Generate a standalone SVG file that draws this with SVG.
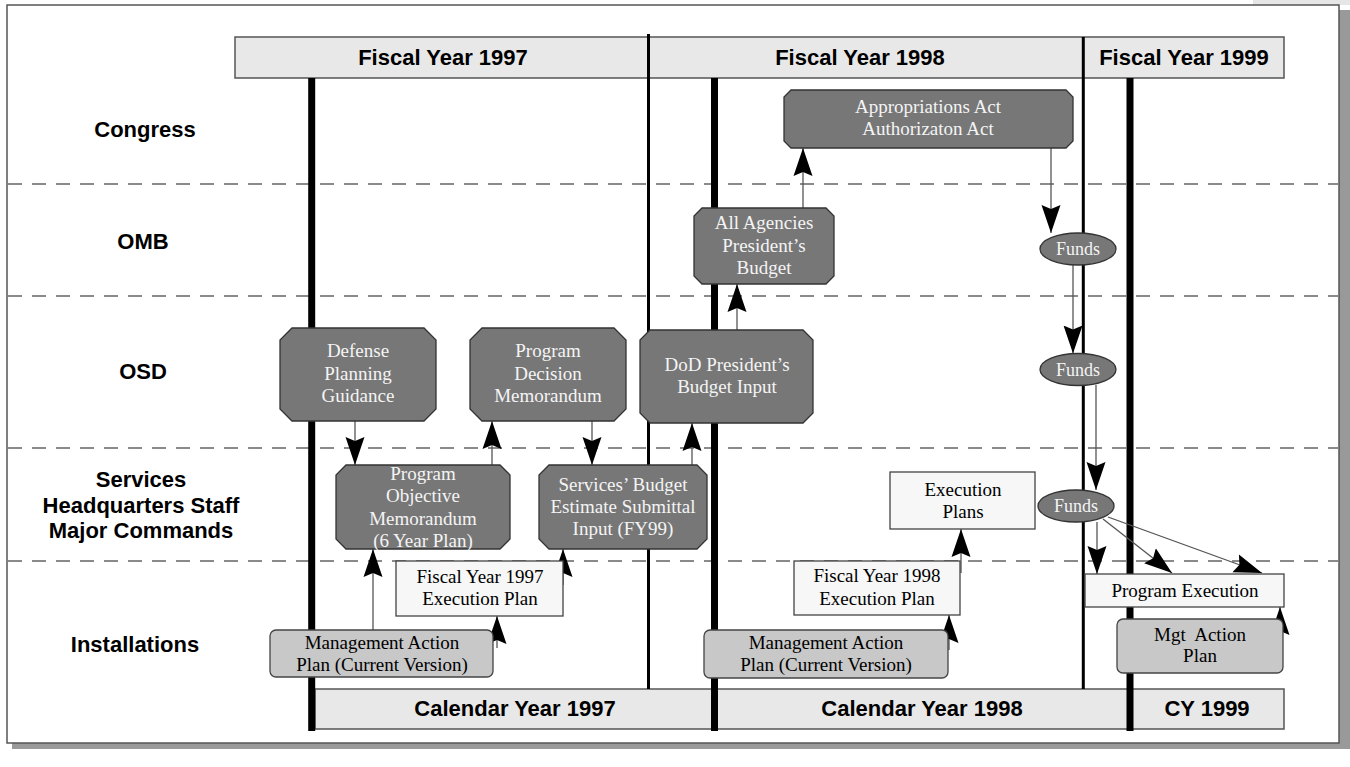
<svg xmlns="http://www.w3.org/2000/svg" width="1350" height="767" viewBox="0 0 1350 767">
  <defs>
    <marker id="arrow" markerUnits="userSpaceOnUse" markerWidth="28" markerHeight="20" viewBox="0 0 28 20" refX="28" refY="10" orient="auto">
      <path d="M0,0.5 L28,10 L0,19.5 L4,10 Z" fill="#000"/>
    </marker>
    <style>
      .lane { font-family: "Liberation Sans", Arial, sans-serif; font-weight: bold; font-size: 22px; fill: #000; text-anchor: middle; }
      .bar { fill: #e8e8e8; stroke: #555; stroke-width: 1.5; }
      .bartxt { font-family: "Liberation Sans", Arial, sans-serif; font-weight: bold; font-size: 22px; fill: #000; text-anchor: middle; }
      .dash { stroke: #8a8a8a; stroke-width: 2; stroke-dasharray: 14 10; fill: none; }
      .thick { stroke: #000; stroke-width: 7; fill: none; }
      .thin { stroke: #000; stroke-width: 3; fill: none; }
      .dark { fill: #777; stroke: #333; stroke-width: 1.3; }
      .light { fill: #f7f7f7; stroke: #444; stroke-width: 1.3; }
      .mid { fill: #c8c8c8; stroke: #444; stroke-width: 1.3; }
      .wt { font-family: "Liberation Serif", "Times New Roman", serif; font-size: 19px; fill: #f4f4f4; text-anchor: middle; }
      .bt { font-family: "Liberation Serif", "Times New Roman", serif; font-size: 19px; fill: #000; text-anchor: middle; }
      .conn line { stroke: #555; stroke-width: 1.3; marker-end: url(#arrow); }
    </style>
  </defs>

  <!-- page frame with drop shadow -->
  <rect x="1253" y="0" width="97" height="5" fill="#e6e6e6"/>
  <rect x="12" y="10" width="1338" height="739" fill="#999"/>
  <rect x="7" y="5" width="1332" height="738" fill="#fff" stroke="#555" stroke-width="1.5"/>

  <!-- organisation lanes -->
  <g id="lanes">
    <line class="dash" x1="8" y1="184" x2="1338" y2="184"/>
    <line class="dash" x1="8" y1="296" x2="1338" y2="296"/>
    <line class="dash" x1="8" y1="448" x2="1338" y2="448"/>
    <line class="dash" x1="8" y1="561" x2="1338" y2="561"/>
    <text class="lane" x="145" y="137">Congress</text>
    <text class="lane" x="143" y="249">OMB</text>
    <text class="lane" x="143" y="379">OSD</text>
    <text class="lane" x="141" y="487">Services</text>
    <text class="lane" x="141" y="513">Headquarters Staff</text>
    <text class="lane" x="141" y="538">Major Commands</text>
    <text class="lane" x="135" y="652">Installations</text>
  </g>

  <!-- fiscal year header -->
  <g id="fiscal-years">
    <rect class="bar" x="235" y="37" width="1049" height="41"/>
    <text class="bartxt" x="443" y="65">Fiscal Year 1997</text>
    <text class="bartxt" x="860" y="65">Fiscal Year 1998</text>
    <text class="bartxt" x="1184" y="65">Fiscal Year 1999</text>
  </g>

  <!-- calendar year footer -->
  <g id="calendar-years">
    <rect class="bar" x="315" y="689" width="969" height="40"/>
    <text class="bartxt" x="515" y="716">Calendar Year 1997</text>
    <text class="bartxt" x="922" y="716">Calendar Year 1998</text>
    <text class="bartxt" x="1207" y="716">CY 1999</text>
  </g>

  <!-- year boundaries -->
  <g id="year-lines">
    <line class="thick" x1="311.7" y1="78" x2="311.7" y2="731"/>
    <line class="thick" x1="714.5" y1="78" x2="714.5" y2="731"/>
    <line class="thick" x1="1130" y1="78" x2="1130" y2="731"/>
    <line class="thin" x1="648.5" y1="34" x2="648.5" y2="689"/>
    <line class="thin" x1="1083.3" y1="37" x2="1083.3" y2="689"/>
  </g>

  <!-- connectors -->
  <g id="connectors" class="conn">
    <line x1="355" y1="421" x2="355" y2="465"/>
    <line x1="492" y1="465" x2="492" y2="421"/>
    <line x1="592" y1="421" x2="592" y2="465"/>
    <line x1="692" y1="465" x2="692" y2="423"/>
    <line x1="737" y1="330" x2="737" y2="284"/>
    <line x1="803" y1="208" x2="803" y2="148"/>
    <line x1="1051" y1="148" x2="1051" y2="233"/>
    <line x1="1073" y1="265" x2="1073" y2="353.5"/>
    <line x1="1096" y1="385" x2="1096" y2="490"/>
    <line x1="1097" y1="522" x2="1097" y2="574"/>
    <line x1="1103" y1="519" x2="1172" y2="573"/>
    <line x1="1108" y1="517" x2="1262" y2="573"/>
    <line x1="373" y1="630" x2="373" y2="549"/>
    <line x1="497" y1="648" x2="497" y2="616"/>
    <line x1="563" y1="585" x2="563" y2="549"/>
    <line x1="949" y1="650" x2="949" y2="615"/>
    <line x1="961" y1="573" x2="961" y2="529"/>
    <line x1="1280" y1="638" x2="1280" y2="607"/>
  </g>

  <!-- Congress -->
  <g id="appropriations">
    <polygon class="dark" points="791,90 1066,90 1073,97 1073,141 1066,148 791,148 784,141 784,97"/>
    <text class="wt" x="928" y="113">Appropriations Act</text>
    <text class="wt" x="928" y="135">Authorizaton Act</text>
  </g>

  <!-- OMB -->
  <g id="all-agencies-budget">
    <polygon class="dark" points="702,208 826,208 834,216 834,276 826,284 702,284 694,276 694,216"/>
    <text class="wt" x="764" y="229">All Agencies</text>
    <text class="wt" x="764" y="252">President’s</text>
    <text class="wt" x="764" y="274">Budget</text>
  </g>
  <g id="funds-omb">
    <ellipse class="dark" cx="1078" cy="249" rx="38" ry="16"/>
    <text class="wt" x="1078" y="255" style="font-size:18px">Funds</text>
  </g>

  <!-- OSD -->
  <g id="defense-planning-guidance">
    <polygon class="dark" points="292,328 424,328 436,340 436,409 424,421 292,421 280,409 280,340"/>
    <text class="wt" x="358" y="357">Defense</text>
    <text class="wt" x="358" y="380">Planning</text>
    <text class="wt" x="358" y="402">Guidance</text>
  </g>
  <g id="program-decision-memorandum">
    <polygon class="dark" points="482,328 614,328 626,340 626,409 614,421 482,421 470,409 470,340"/>
    <text class="wt" x="548" y="357">Program</text>
    <text class="wt" x="548" y="380">Decision</text>
    <text class="wt" x="548" y="402">Memorandum</text>
  </g>
  <g id="dod-budget-input">
    <polygon class="dark" points="650,330 803,330 813,340 813,413 803,423 650,423 640,413 640,340"/>
    <text class="wt" x="727" y="371">DoD President’s</text>
    <text class="wt" x="727" y="393">Budget Input</text>
  </g>
  <g id="funds-osd">
    <ellipse class="dark" cx="1078" cy="369.5" rx="38" ry="16"/>
    <text class="wt" x="1078" y="375.5" style="font-size:18px">Funds</text>
  </g>

  <!-- Services -->
  <g id="program-objective-memorandum">
    <polygon class="dark" points="346,465 500,465 510,475 510,539 500,549 346,549 336,539 336,475"/>
    <text class="wt" x="423" y="480">Program</text>
    <text class="wt" x="423" y="502">Objective</text>
    <text class="wt" x="423" y="525">Memorandum</text>
    <text class="wt" x="423" y="547">(6 Year Plan)</text>
  </g>
  <g id="budget-estimate-submittal">
    <polygon class="dark" points="549,465 697,465 707,475 707,539 697,549 549,549 539,539 539,475"/>
    <text class="wt" x="623" y="491">Services’ Budget</text>
    <text class="wt" x="623" y="513">Estimate Submittal</text>
    <text class="wt" x="623" y="535">Input (FY99)</text>
  </g>
  <g id="execution-plans">
    <rect class="light" x="890" y="472" width="145" height="57"/>
    <text class="bt" x="963" y="496">Execution</text>
    <text class="bt" x="963" y="518">Plans</text>
  </g>
  <g id="funds-services">
    <ellipse class="dark" cx="1076" cy="506" rx="38" ry="16"/>
    <text class="wt" x="1076" y="512" style="font-size:18px">Funds</text>
  </g>

  <!-- Installations -->
  <g id="fy97-execution-plan">
    <rect class="light" x="396" y="561" width="167" height="55"/>
    <text class="bt" x="480" y="583">Fiscal Year 1997</text>
    <text class="bt" x="480" y="605">Execution Plan</text>
  </g>
  <g id="fy98-execution-plan">
    <rect class="light" x="794" y="561" width="166" height="54"/>
    <text class="bt" x="877" y="582">Fiscal Year 1998</text>
    <text class="bt" x="877" y="605">Execution Plan</text>
  </g>
  <g id="map-1997">
    <rect class="mid" x="270" y="630" width="223" height="47" rx="6"/>
    <text class="bt" x="382" y="649">Management Action</text>
    <text class="bt" x="382" y="671">Plan (Current Version)</text>
  </g>
  <g id="map-1998">
    <rect class="mid" x="704" y="630" width="244" height="48" rx="6"/>
    <text class="bt" x="826" y="649">Management Action</text>
    <text class="bt" x="826" y="671">Plan (Current Version)</text>
  </g>
  <g id="program-execution">
    <rect class="light" x="1085" y="574" width="199" height="33"/>
    <text class="bt" x="1185" y="597">Program Execution</text>
  </g>
  <g id="mgt-action-plan">
    <rect class="mid" x="1117" y="619" width="166" height="54" rx="6"/>
    <text class="bt" x="1200" y="641" style="white-space:pre">Mgt  Action</text>
    <text class="bt" x="1200" y="662">Plan</text>
  </g>
</svg>
